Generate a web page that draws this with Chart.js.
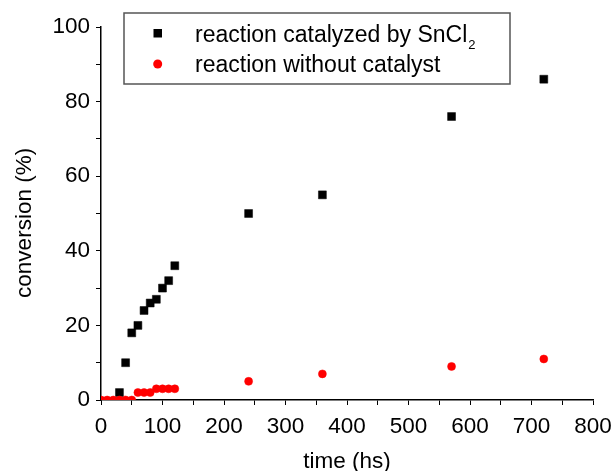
<!DOCTYPE html>
<html>
<head>
<meta charset="utf-8">
<script src="https://cdn.jsdelivr.net/npm/chart.js@4/dist/chart.umd.min.js"></script>
<style>
html, body { margin: 0; padding: 0; background: #fff; }
#wrap { width: 613px; height: 471px; }
</style>
</head>
<body>
<div id="wrap"><canvas id="convChart"></canvas></div>
<script>
// reaction catalyzed by SnCl2
const catTimes = [30, 40, 50, 60, 70, 80, 90, 100, 110, 120, 240, 360, 570, 720];
const catConv  = [2, 10, 18, 20, 24, 26, 27, 30, 32, 36, 50, 55, 76, 86];
// reaction without catalyst
const noCatTimes = [0, 10, 20, 30, 40, 50, 60, 70, 80, 90, 100, 110, 120, 240, 360, 570, 720];
const noCatConv  = [0, 0, 0, 0, 0, 0, 2, 2, 2, 3, 3, 3, 3, 5, 7, 9, 11];

const toPoints = (xs, ys) => xs.map((x, i) => ({ x: x, y: ys[i] }));

const FONT = 'Liberation Sans, Arial, sans-serif';

// boxed legend with subscript, like the original plot
const legendBox = {
    id: 'legendBox',
    afterDraw(chart) {
        const ctx = chart.ctx;
        ctx.save();
        ctx.strokeStyle = '#555';
        ctx.lineWidth = 1.5;
        ctx.strokeRect(124, 13, 386, 71);

        ctx.fillStyle = '#000';
        ctx.fillRect(153.5, 29, 8.5, 8.5);
        ctx.fillStyle = '#ff0000';
        ctx.beginPath();
        ctx.arc(157.7, 64, 4.5, 0, Math.PI * 2);
        ctx.fill();

        ctx.fillStyle = '#000';
        ctx.textBaseline = 'alphabetic';
        ctx.font = '23px ' + FONT;
        const l1 = 'reaction catalyzed by SnCl';
        ctx.fillText(l1, 195, 42);
        const w = ctx.measureText(l1).width;
        ctx.font = '13px ' + FONT;
        ctx.fillText('2', 195 + w + 1, 49);
        ctx.font = '23px ' + FONT;
        ctx.fillText('reaction without catalyst', 195, 72);
        ctx.restore();
    }
};

document.addEventListener('DOMContentLoaded', function() {
    const ctx = document.getElementById('convChart').getContext('2d');
    new Chart(ctx, {
        type: 'scatter',
        data: {
            datasets: [{
                label: 'reaction without catalyst',
                data: toPoints(noCatTimes, noCatConv),
                pointStyle: 'circle',
                pointRadius: 4,
                pointBorderWidth: 0.5,
                borderColor: '#ff0000',
                backgroundColor: '#ff0000',
                clip: 0,
                order: 0
            }, {
                label: 'reaction catalyzed by SnCl2',
                data: toPoints(catTimes, catConv),
                pointStyle: 'rect',
                pointRadius: 5.6,
                pointBorderWidth: 0.5,
                borderColor: '#000',
                backgroundColor: '#000',
                clip: 0,
                order: 1
            }]
        },
        options: {
            responsive: true,
            maintainAspectRatio: false,
            animation: false,
            layout: { padding: { top: 27, right: 20, left: 0, bottom: 0 } },
            scales: {
                x: {
                    type: 'linear',
                    min: 0,
                    max: 800,
                    afterFit: function(s) {
                        s.height = 71;
                        s.paddingRight = 0;
                        s.paddingLeft = 0;
                    },
                    border: { display: true, color: '#000', width: 1.5 },
                    grid: { drawOnChartArea: false, drawTicks: true, tickLength: 5, color: '#000' },
                    ticks: {
                        stepSize: 50,
                        autoSkip: false,
                        maxRotation: 0,
                        padding: 8,
                        color: '#000',
                        font: { family: FONT, size: 22.5 },
                        callback: v => (v % 100 === 0 ? v : '')
                    },
                    title: {
                        display: true,
                        text: 'time (hs)',
                        color: '#000',
                        padding: { top: 4, bottom: -4 },
                        font: { family: FONT, size: 22.5 }
                    }
                },
                y: {
                    min: 0,
                    max: 100,
                    afterFit: function(s) { s.width = 101; },
                    border: { display: true, color: '#000', width: 1.5 },
                    grid: { drawOnChartArea: false, drawTicks: true, tickLength: 5, color: '#000' },
                    ticks: {
                        stepSize: 10,
                        autoSkip: false,
                        padding: 6,
                        color: '#000',
                        font: { family: FONT, size: 22.5 },
                        callback: v => (v % 20 === 0 ? v : '')
                    },
                    title: {
                        display: true,
                        // trailing spaces nudge the rotated title a bit lower, as in the original
                        text: 'conversion (%)\u00A0\u00A0\u00A0',
                        color: '#000',
                        padding: { top: 11, bottom: 0 },
                        font: { family: FONT, size: 22.5 }
                    }
                }
            },
            plugins: {
                legend: { display: false },
                tooltip: { enabled: false }
            }
        },
        plugins: [legendBox]
    });
});
</script>
</body>
</html>
